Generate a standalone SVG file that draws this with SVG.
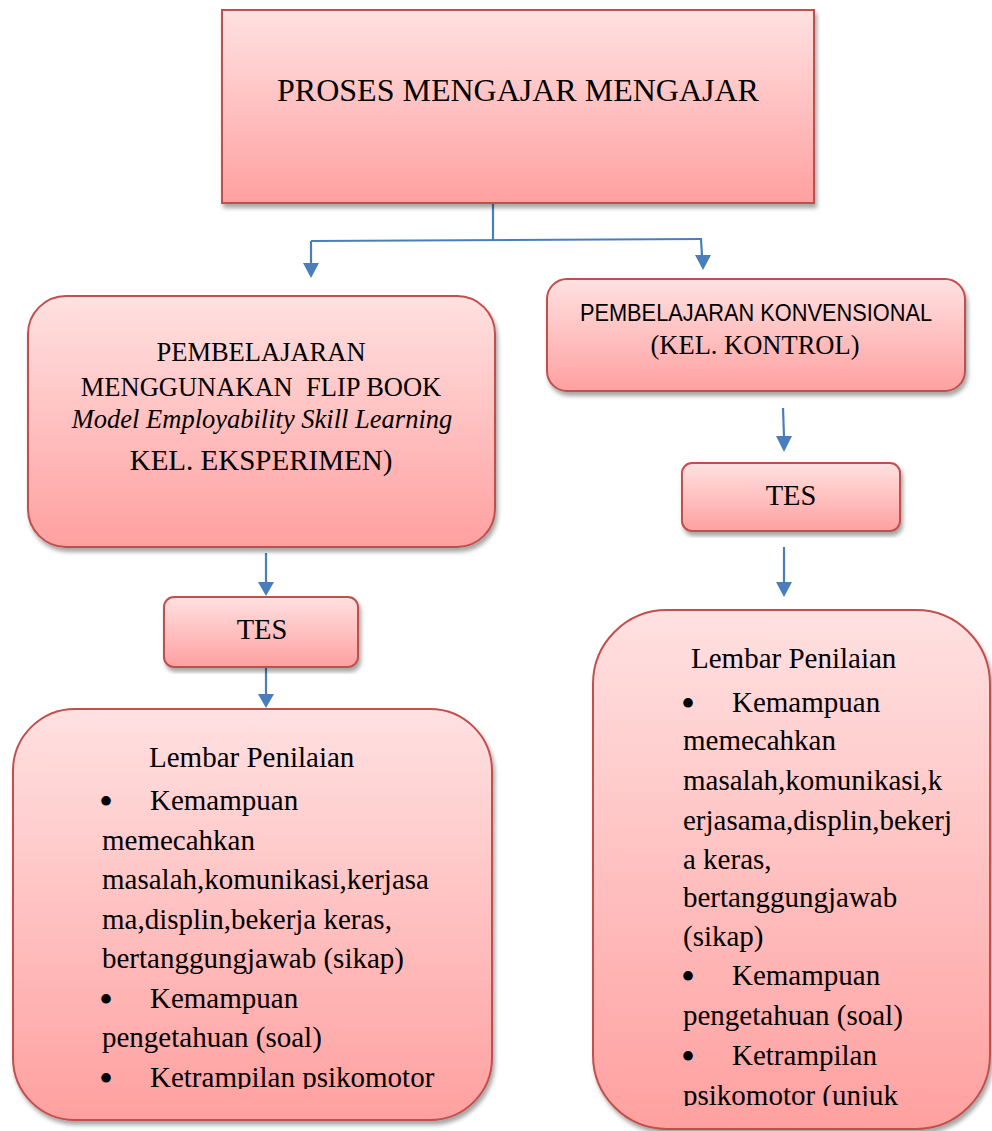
<svg xmlns="http://www.w3.org/2000/svg" width="992" height="1131" viewBox="0 0 992 1131">
<defs>
<linearGradient id="pink" x1="0" y1="0" x2="0" y2="1">
<stop offset="0" stop-color="#ffe1e1"/>
<stop offset="1" stop-color="#ffa0a0"/>
</linearGradient>
<filter id="sh" x="-5%" y="-5%" width="112%" height="115%">
<feDropShadow dx="2" dy="4" stdDeviation="2.2" flood-color="#000" flood-opacity="0.35"/>
</filter>
<clipPath id="clipL"><rect x="0" y="700" width="500" height="389"/></clipPath>
<clipPath id="clipR"><rect x="590" y="600" width="402" height="506"/></clipPath>
</defs>
<style>
.box{fill:url(#pink);stroke:#c0504d;stroke-width:2;filter:url(#sh)}
.serif{font-family:"Liberation Serif","Times New Roman",serif;fill:#000}
.sans{font-family:"Liberation Sans",Arial,sans-serif;fill:#000}
.c{text-anchor:middle}
.line{stroke:#4a7ebb;stroke-width:2.2;fill:none}
.head{fill:#4a7ebb}
.body{font-size:29px}
.bul{font-size:40px}
</style>

<g id="connectors">
<line class="line" x1="493" y1="203" x2="493" y2="240"/>
<line class="line" x1="311" y1="241" x2="702" y2="239"/>
<line class="line" x1="311" y1="241" x2="311" y2="264"/>
<polygon class="head" points="303,263 319,263 311,278"/>
<line class="line" x1="701" y1="239" x2="702" y2="256"/>
<polygon class="head" points="695,255 711,255 703,270"/>
<line class="line" x1="266" y1="553" x2="266" y2="583"/>
<polygon class="head" points="258,582 274,582 266,596"/>
<line class="line" x1="266" y1="667" x2="266" y2="695"/>
<polygon class="head" points="258,694 274,694 266,708"/>
<line class="line" x1="783" y1="408" x2="784" y2="437"/>
<polygon class="head" points="776,436 792,436 784,452"/>
<line class="line" x1="784" y1="547" x2="784" y2="583"/>
<polygon class="head" points="776,582 792,582 784,597"/>
</g>

<g id="node-proses">
<rect class="box" x="222" y="10" width="592" height="193"/>
<text class="serif c" x="518" y="101" font-size="32">PROSES MENGAJAR MENGAJAR</text>
</g>

<g id="node-eksperimen">
<rect class="box" x="28" y="296" width="467" height="251" rx="38" ry="38"/>
<text class="serif c" x="261" y="361" font-size="26.5">PEMBELAJARAN</text>
<text class="serif c" x="261" y="396" font-size="26.5" xml:space="preserve">MENGGUNAKAN  FLIP BOOK</text>
<text class="serif c" x="262" y="428" font-size="26.5" font-style="italic">Model Employability Skill Learning</text>
<text class="serif c" x="261" y="470" font-size="29">KEL. EKSPERIMEN)</text>
</g>

<g id="node-konvensional">
<rect class="box" x="547" y="279" width="418" height="112" rx="20" ry="20"/>
<text class="sans c" transform="translate(756,321) scale(1,1.12)" x="0" y="0" font-size="21.8">PEMBELAJARAN KONVENSIONAL</text>
<text class="serif c" x="755" y="354" font-size="26.5">(KEL. KONTROL)</text>
</g>

<g id="node-tes-left">
<rect class="box" x="164" y="597" width="194" height="70" rx="10" ry="10"/>
<text class="serif c" x="262" y="639" font-size="28.5">TES</text>
</g>

<g id="node-tes-right">
<rect class="box" x="682" y="463" width="218" height="68" rx="10" ry="10"/>
<text class="serif c" x="791" y="505" font-size="28.5">TES</text>
</g>

<g id="node-lembar-left">
<rect class="box" x="13" y="709" width="479" height="411" rx="62" ry="62"/>
<g clip-path="url(#clipL)" class="serif body">
<text x="149" y="767">Lembar Penilaian</text>
<text class="bul" x="99" y="815">•</text><text x="150" y="810">Kemampuan</text>
<text x="102" y="849.5">memecahkan</text>
<text x="102" y="889">masalah,komunikasi,kerjasa</text>
<text x="102" y="928.5">ma,displin,bekerja keras,</text>
<text x="102" y="968">bertanggungjawab (sikap)</text>
<text class="bul" x="99" y="1012.5">•</text><text x="150" y="1007.5">Kemampuan</text>
<text x="102" y="1047">pengetahuan (soal)</text>
<text class="bul" x="99" y="1091.5">•</text><text x="150" y="1086.5">Ketrampilan psikomotor</text>
</g>
</g>

<g id="node-lembar-right">
<rect class="box" x="593" y="610" width="397" height="519" rx="74" ry="74"/>
<g clip-path="url(#clipR)" class="serif body">
<text x="691" y="668">Lembar Penilaian</text>
<text class="bul" x="681" y="717">•</text><text x="732" y="712">Kemampuan</text>
<text x="683" y="750">memecahkan</text>
<text x="683" y="790">masalah,komunikasi,k</text>
<text x="683" y="830">erjasama,displin,bekerj</text>
<text x="683" y="869">a keras,</text>
<text x="683" y="907">bertanggungjawab</text>
<text x="683" y="946">(sikap)</text>
<text class="bul" x="681" y="990">•</text><text x="732" y="985">Kemampuan</text>
<text x="683" y="1025">pengetahuan (soal)</text>
<text class="bul" x="681" y="1070">•</text><text x="732" y="1065">Ketrampilan</text>
<text x="683" y="1105">psikomotor (unjuk</text>
</g>
</g>
</svg>
